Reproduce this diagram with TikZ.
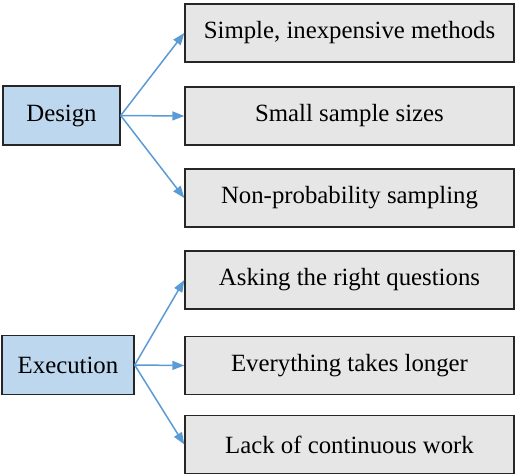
\documentclass[tikz,border=0pt]{standalone}
\usepackage{fontspec}
\setmainfont{Liberation Serif}
\usetikzlibrary{arrows.meta}
\definecolor{headfill}{HTML}{BDD7EE}
\definecolor{itemfill}{HTML}{E7E6E6}
\definecolor{linkblue}{HTML}{5B9BD5}
\begin{document}
\begin{tikzpicture}[x=1pt,y=-1pt,
  headbox/.style={draw=black!85,line width=1.4pt,fill=headfill,minimum height=59pt,
    inner sep=0pt,font=\fontsize{24.8}{28}\selectfont},
  itembox/.style={draw=black!85,line width=1.4pt,fill=itemfill,minimum width=329pt,
    minimum height=58pt,inner sep=0pt,font=\fontsize{24.8}{28}\selectfont},
  link/.style={draw=linkblue,line width=1.5pt,-{Triangle[length=12pt,width=9pt]}}]
\useasboundingbox (0,0) rectangle (515,475);
% first group
\node[headbox,minimum width=117pt] (design) at (61.5,115.5) {Design};
\node[itembox] (d1) at (349.5,33) {Simple, inexpensive methods};
\node[itembox] (d2) at (349.5,116) {Small sample sizes};
\node[itembox] (d3) at (349.5,198) {Non-probability sampling};
% second group
\node[headbox,minimum width=132pt] (exec) at (68,365) {Execution};
\node[itembox] (e1) at (349.5,280) {Asking the right questions};
\node[itembox] (e2) at (349.5,365.5) {Everything takes longer};
\node[itembox] (e3) at (349.5,444.5) {Lack of continuous work};
% connectors
\foreach \t in {d1,d2,d3} \draw[link] (design.east) -- (\t.west);
\foreach \t in {e1,e2,e3} \draw[link] (exec.east) -- (\t.west);
\end{tikzpicture}
\end{document}
